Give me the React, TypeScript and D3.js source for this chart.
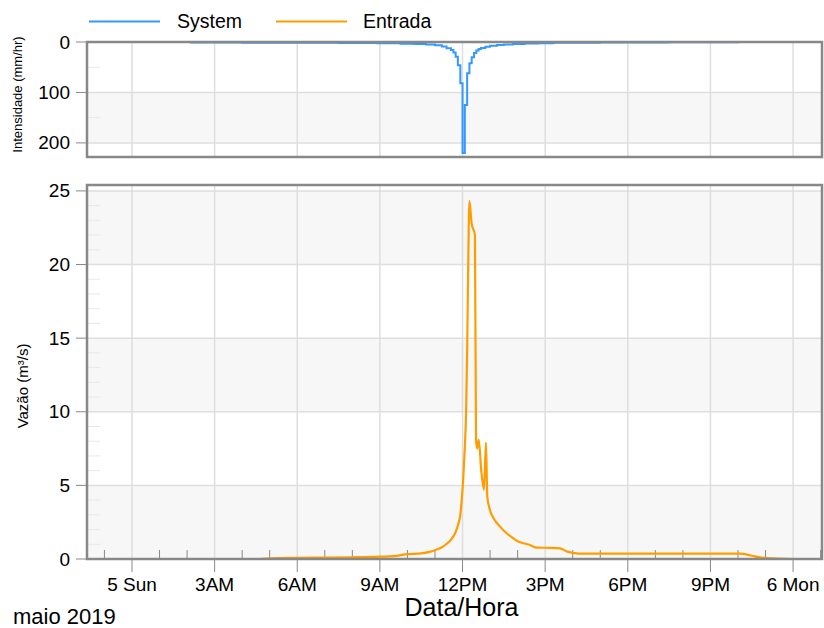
import React from "react";
import * as d3 from "d3";

// hours counted from 5 May 2019 00:00
const base = new Date(2019, 4, 5, 0, 0);
const at = (h: number) => new Date(base.getTime() + h * 3600e3);

// System (mm/hr), step series
const systemHours = [2.1, 4.0, 6.0, 7.5, 8.9, 9.75, 10.25, 10.67, 11.0, 11.25, 11.42, 11.58, 11.67, 11.75, 11.83, 11.92, 12.0, 12.083, 12.167, 12.25, 12.333, 12.417, 12.5, 12.583, 12.667, 12.83, 13.0, 13.25, 13.5, 13.83, 14.25, 14.75, 15.3, 17.0, 19.5, 22.0];
const systemValues = [1, 1.3, 1.6, 2, 2.6, 3.5, 4.2, 5, 6.5, 9, 12.5, 16, 21, 29, 46, 82, 220, 125, 62, 42, 30, 22, 17, 14, 12, 9.5, 7.5, 6, 5, 4, 3.2, 2.5, 1.5, 1.1, 0.7, 0];

// Entrada (m³/s)
const entradaHours = [4.65, 5.0, 6.0, 7.0, 8.0, 9.0, 9.5, 10.0, 10.5, 10.8, 11.0, 11.25, 11.45, 11.6, 11.73, 11.85, 11.92, 11.98, 12.03, 12.08, 12.13, 12.17, 12.2, 12.25, 12.33, 12.45, 12.49, 12.53, 12.59, 12.68, 12.78, 12.85, 12.9, 13.0, 13.15, 13.36, 13.6, 13.85, 14.0, 14.21, 14.45, 14.69, 15.2, 15.54, 15.8, 16.0, 16.4, 22.1, 22.5, 22.8, 23.3, 24.0];
const entradaValues = [0.0, 0.05, 0.08, 0.1, 0.12, 0.16, 0.2, 0.33, 0.38, 0.48, 0.6, 0.8, 1.07, 1.35, 1.75, 2.4, 3.0, 4.2, 5.6, 7.5, 10.0, 14.5, 19.0, 24.3, 22.8, 22.0, 8.1, 7.5, 8.1, 6.0, 4.7, 7.9, 4.2, 3.3, 2.7, 2.2, 1.75, 1.4, 1.2, 1.07, 0.95, 0.77, 0.76, 0.72, 0.5, 0.42, 0.36, 0.36, 0.22, 0.11, 0.04, 0.0];

const xTickHours = [0, 3, 6, 9, 12, 15, 18, 21, 24];
const xTickLabels = ["5 Sun", "3AM", "6AM", "9AM", "12PM", "3PM", "6PM", "9PM", "6 Mon"];
const xMinorHours = [-1, 1, 2, 4, 5, 7, 8, 10, 11, 13, 14, 16, 17, 19, 20, 22, 23, 25];
const rainTicks = [0, 100, 200];
const rainMinor = [50, 150];
const rainBands = [[100, 200]];
const flowTicks = [0, 5, 10, 15, 20, 25];
const flowMinor = [1, 2, 3, 4, 6, 7, 8, 9, 11, 12, 13, 14, 16, 17, 18, 19, 21, 22, 23, 24];
const flowBands = [[0, 5], [10, 15], [20, 25]];

const W = 824;
const H = 628;
const L = 87;
const R = 822;
const T1 = 42, B1 = 157;
const T2 = 185, B2 = 559;
const font = "'Liberation Sans', Arial, sans-serif";
const blue = "#3399ff";
const orange = "#ff9d00";
const gridColor = "#dedede";
const axisColor = "#888";

export default function App() {
  const x = d3.scaleTime().domain([at(-98 / 60), at(25.05)]).range([L, R]);
  const yRain = d3.scaleLinear().domain([0, 228]).range([T1, B1]);
  const yFlow = d3.scaleLinear().domain([0, 25.4]).range([B2, T2]);

  const rainLine = d3
    .line<number>()
    .x((h) => x(at(h)))
    .y((_, i) => yRain(systemValues[i]))
    .curve(d3.curveStepAfter);

  const flowLine = d3
    .line<number>()
    .x((h) => x(at(h)))
    .y((_, i) => yFlow(entradaValues[i]))
    .curve(d3.curveMonotoneX);

  const vGrid = (top: number, bottom: number) =>
    xTickHours.map((h) => (
      <line key={h} x1={x(at(h))} x2={x(at(h))} y1={top} y2={bottom} stroke={gridColor} strokeWidth={1.5} />
    ));

  return (
    <svg width={W} height={H} style={{ position: "absolute", left: 0, top: 0 }} fontFamily={font}>
      <defs>
        <clipPath id="clipTop">
          <rect x={L} y={T1} width={R - L} height={B1 - T1} />
        </clipPath>
        <clipPath id="clipBottom">
          <rect x={L} y={T2} width={R - L} height={B2 - T2} />
        </clipPath>
      </defs>

      {/* legend */}
      <line x1={89} x2={160} y1={21.5} y2={21.5} stroke={blue} strokeWidth={2} />
      <text x={177} y={21} fontSize={19.5} dominantBaseline="central">System</text>
      <line x1={276} x2={347} y1={21.5} y2={21.5} stroke={orange} strokeWidth={2} />
      <text x={363} y={21} fontSize={19.5} dominantBaseline="central">Entrada</text>

      {/* top panel */}
      <rect x={L} y={T1} width={R - L} height={B1 - T1} fill="#fff" />
      {rainBands.map(([a, b]) => (
        <rect key={a} x={L} y={yRain(a)} width={R - L} height={yRain(b) - yRain(a)} fill="#f7f7f7" />
      ))}
      {rainTicks.slice(1).map((v) => (
        <line key={v} x1={L} x2={R} y1={yRain(v)} y2={yRain(v)} stroke={gridColor} strokeWidth={1.5} />
      ))}
      {vGrid(T1, B1)}
      {rainMinor.map((v) => (
        <line key={v} x1={L} x2={L + 13} y1={yRain(v)} y2={yRain(v)} stroke="#e8e8e8" strokeWidth={1} />
      ))}
      <path d={rainLine(systemHours) ?? ""} fill="none" stroke={blue} strokeWidth={2} clipPath="url(#clipTop)" />
      <rect x={L} y={T1} width={R - L} height={B1 - T1} fill="none" stroke={axisColor} strokeWidth={2.5} />
      {rainTicks.map((v) => (
        <g key={v}>
          <line x1={L - 11} x2={L} y1={yRain(v)} y2={yRain(v)} stroke={axisColor} strokeWidth={1} />
          <text x={70} y={yRain(v)} fontSize={19} textAnchor="end" dominantBaseline="central">{v}</text>
        </g>
      ))}
      <text transform={`translate(17,${(T1 + B1) / 2 - 5}) rotate(-90)`} fontSize={13} textAnchor="middle" dominantBaseline="central">
        Intensidade (mm/hr)
      </text>

      {/* bottom panel */}
      <rect x={L} y={T2} width={R - L} height={B2 - T2} fill="#fff" />
      {flowBands.map(([a, b]) => (
        <rect key={a} x={L} y={yFlow(b)} width={R - L} height={yFlow(a) - yFlow(b)} fill="#f7f7f7" />
      ))}
      {flowTicks.slice(1).map((v) => (
        <line key={v} x1={L} x2={R} y1={yFlow(v)} y2={yFlow(v)} stroke={gridColor} strokeWidth={1.5} />
      ))}
      {vGrid(T2, B2)}
      {flowMinor.map((v) => (
        <line key={v} x1={L} x2={L + 13} y1={yFlow(v)} y2={yFlow(v)} stroke="#e8e8e8" strokeWidth={1} />
      ))}
      {xMinorHours.map((h) => (
        <line key={h} x1={x(at(h))} x2={x(at(h))} y1={B2 - 9} y2={B2} stroke={axisColor} strokeWidth={1} />
      ))}
      <path d={flowLine(entradaHours) ?? ""} fill="none" stroke={orange} strokeWidth={2.2} clipPath="url(#clipBottom)" />
      <rect x={L} y={T2} width={R - L} height={B2 - T2} fill="none" stroke={axisColor} strokeWidth={2.5} />
      {flowTicks.map((v) => (
        <g key={v}>
          <line x1={L - 11} x2={L} y1={yFlow(v)} y2={yFlow(v)} stroke={axisColor} strokeWidth={1} />
          <text x={70} y={yFlow(v)} fontSize={19} textAnchor="end" dominantBaseline="central">{v}</text>
        </g>
      ))}
      {xTickHours.map((h, i) => (
        <g key={h}>
          <line x1={x(at(h))} x2={x(at(h))} y1={B2} y2={B2 + 13} stroke={axisColor} strokeWidth={1} />
          <text x={x(at(h))} y={584} fontSize={19} textAnchor="middle" dominantBaseline="central">{xTickLabels[i]}</text>
        </g>
      ))}
      <text transform={`translate(22,386) rotate(-90)`} fontSize={15} textAnchor="middle" dominantBaseline="central">
        Vazão (m³/s)
      </text>
      <text x={(L + R) / 2 + 7} y={616} fontSize={25} textAnchor="middle">Data/Hora</text>
      <text x={13} y={624} fontSize={22}>maio 2019</text>
    </svg>
  );
}
